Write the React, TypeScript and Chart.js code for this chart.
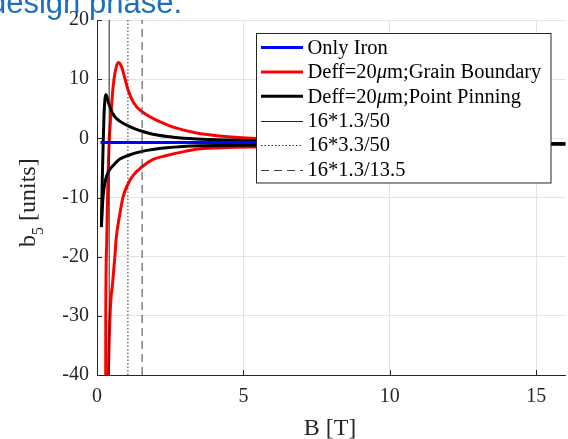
import React, { useEffect, useRef } from "react";
import { Chart, registerables } from "chart.js";
Chart.register(...registerables);

const SERIF = "'Times New Roman', 'Liberation Serif', 'DejaVu Serif', serif";

// axis ticks
const xTickValues = [0, 5, 10, 15];
const yTickValues = [-40, -30, -20, -10, 0, 10, 20];

// Only Iron
const ironX = [0.12, 15.5];
const ironY = [-0.7, -0.7];

// Deff=20um; Grain Boundary (upper branch)
const gbUpX = [0.295, 0.3, 0.33, 0.36, 0.39, 0.42, 0.47, 0.55, 0.62, 0.72, 0.83, 0.95, 1.06, 1.25, 1.54, 1.9, 2.2, 2.66, 3.4, 4.2, 5.1, 6.5, 8, 10, 13, 16];
const gbUpY = [-50, -30, -18, -10, -4, 0, 3.6, 8.7, 11.2, 12.8, 12.2, 10.2, 8.2, 6.0, 4.5, 3.4, 2.7, 1.8, 0.9, 0.4, 0.05, -0.3, -0.5, -0.65, -0.8, -0.9];
// Deff=20um; Grain Boundary (lower branch)
const gbDownX = [0.37, 0.39, 0.43, 0.47, 0.53, 0.61, 0.66, 0.78, 0.89, 1.06, 1.23, 1.54, 1.9, 2.38, 3.0, 3.52, 4.5, 5.5, 7, 9, 12, 16];
const gbDownY = [-50, -40, -32, -27.5, -24.6, -20, -16.7, -12.8, -9.9, -7.7, -6.3, -4.8, -3.6, -2.9, -2.2, -1.75, -1.55, -1.45, -1.3, -1.15, -1.0, -0.95];

// Deff=20um; Point Pinning (upper branch)
const ppUpX = [0.15, 0.18, 0.21, 0.24, 0.27, 0.3, 0.34, 0.4, 0.49, 0.6, 0.75, 1.06, 1.3, 1.54, 2.0, 2.6, 3.4, 4.5, 6, 8, 11, 16];
const ppUpY = [-15, -7, -1, 4, 6.5, 7.4, 7.0, 5.9, 4.7, 3.7, 3.0, 2.1, 1.6, 1.2, 0.6, 0.2, -0.1, -0.3, -0.45, -0.65, -0.8, -0.9];
// Deff=20um; Point Pinning (lower branch)
const ppDownX = [0.15, 0.18, 0.21, 0.26, 0.32, 0.42, 0.55, 0.75, 1.06, 1.54, 2.38, 3.52, 5.5, 8, 11, 16];
const ppDownY = [-15, -12, -9.7, -7.8, -6.5, -5.4, -4.6, -3.6, -2.9, -2.2, -1.6, -1.25, -1.15, -1.05, -1.0, -0.95];

// reference vertical lines
const refX = [(16 * 1.3) / 50, (16 * 3.3) / 50, (16 * 1.3) / 13.5];
const refLabels = ["16*1.3/50", "16*3.3/50", "16*1.3/13.5"];
const refDash = [[], [1.5, 2], [8, 5]];
const refColors = ["#222222", "#333333", "#444444"];

const seriesLabels = ["Only Iron", "Deff=20\u03bcm;Grain Boundary", "Deff=20\u03bcm;Point Pinning"];
const seriesColors = ["#0000ff", "#ff0000", "#000000"];

const X_MIN = 0, X_MAX = 16, Y_MIN = -40, Y_MAX = 20;

const pts = (xs: number[], ys: number[]) => xs.map((x, i) => ({ x, y: ys[i] }));

function curve(xs: number[], ys: number[], color: string, order: number) {
  return {
    data: pts(xs, ys),
    showLine: true,
    borderColor: color,
    backgroundColor: color,
    borderWidth: 3,
    pointRadius: 0,
    fill: false,
    cubicInterpolationMode: "monotone" as const,
    clip: 0,
    order,
  };
}

function drawRich(ctx: CanvasRenderingContext2D, text: string, x: number, y: number, size: number) {
  const parts = text.split(/(\u03bc)/);
  let cx = x;
  for (const p of parts) {
    if (!p) continue;
    ctx.font = (p === "\u03bc" ? "italic " : "") + `${size}px ${SERIF}`;
    ctx.fillText(p, cx, y);
    cx += ctx.measureText(p).width;
  }
}

const decorPlugin = {
  id: "decor",
  beforeDatasetsDraw(chart: any) {
    const { ctx, chartArea: ca, scales } = chart;
    ctx.save();
    ctx.strokeStyle = "#262626";
    ctx.lineWidth = 1;
    ctx.beginPath();
    for (const v of xTickValues) {
      const px = Math.round(scales.x.getPixelForValue(v)) + 0.5;
      ctx.moveTo(px, ca.bottom);
      ctx.lineTo(px, ca.bottom - 5);
    }
    for (const v of yTickValues) {
      const py = Math.round(scales.y.getPixelForValue(v)) + 0.5;
      ctx.moveTo(ca.left, py);
      ctx.lineTo(ca.left + 5, py);
    }
    ctx.stroke();
    ctx.restore();
  },
  afterDraw(chart: any) {
    const { ctx } = chart;
    ctx.save();
    // x axis title
    ctx.fillStyle = "#262626";
    ctx.font = `24px ${SERIF}`;
    ctx.textAlign = "center";
    ctx.textBaseline = "alphabetic";
    ctx.fillText("B [T]", 330, 435);

    // y axis title with subscript
    ctx.save();
    ctx.translate(35, 197);
    ctx.rotate(-Math.PI / 2);
    ctx.textAlign = "left";
    ctx.font = `24px ${SERIF}`;
    const wB = ctx.measureText("b").width;
    ctx.font = `16px ${SERIF}`;
    const w5 = ctx.measureText("5").width;
    let tx = -50;
    ctx.font = `24px ${SERIF}`;
    ctx.fillText("b", tx, 0);
    tx += wB;
    ctx.font = `16px ${SERIF}`;
    ctx.fillText("5", tx, 8);
    tx += w5;
    ctx.font = `24px ${SERIF}`;
    ctx.fillText(" [units]", tx, 0);
    ctx.restore();

    // legend
    const bx = 256.5, by = 33.5, bw = 294.5, bh = 149.5;
    ctx.fillStyle = "#ffffff";
    ctx.fillRect(bx, by, bw, bh);
    ctx.strokeStyle = "#262626";
    ctx.lineWidth = 1;
    ctx.strokeRect(bx, by, bw, bh);
    const rowY0 = 47.5, rowStep = 24.4;
    const lx0 = 261, lx1 = 303, tx0 = 307.5;
    const labels = [...seriesLabels, ...refLabels];
    labels.forEach((lab, i) => {
      const cy = rowY0 + i * rowStep;
      ctx.save();
      if (i < 3) {
        ctx.strokeStyle = seriesColors[i];
        ctx.lineWidth = 3;
        ctx.setLineDash([]);
      } else {
        ctx.strokeStyle = refColors[i - 3];
        ctx.lineWidth = 1;
        ctx.setLineDash(refDash[i - 3]);
      }
      const yy = i < 3 ? cy : Math.round(cy) + 0.5;
      ctx.beginPath();
      ctx.moveTo(lx0, yy);
      ctx.lineTo(lx1, yy);
      ctx.stroke();
      ctx.restore();
      ctx.fillStyle = "#000000";
      ctx.textAlign = "left";
      ctx.textBaseline = "middle";
      drawRich(ctx, lab, tx0, cy + 1, 20.5);
    });
    ctx.restore();
  },
};

export default function App() {
  const ref = useRef<HTMLCanvasElement | null>(null);
  useEffect(() => {
    if (!ref.current) return;
    const refSets = refX.map((x, i) => ({
      data: pts([x, x], [Y_MIN, Y_MAX]),
      showLine: true,
      borderColor: refColors[i],
      borderWidth: 1,
      borderDash: refDash[i],
      pointRadius: 0,
      fill: false,
      tension: 0,
      clip: 0,
      order: -1,
    }));
    const chart = new Chart(ref.current, {
      type: "scatter",
      data: {
        datasets: [
          curve(ironX, ironY, seriesColors[0], 0),
          curve(gbUpX, gbUpY, seriesColors[1], 2),
          curve(gbDownX, gbDownY, seriesColors[1], 2),
          curve(ppUpX, ppUpY, seriesColors[2], 1),
          curve(ppDownX, ppDownY, seriesColors[2], 1),
          ...refSets,
        ] as any,
      },
      options: {
        animation: false,
        responsive: false,
        devicePixelRatio: 1,
        layout: { padding: { top: 19.5, right: 2.5, left: 0, bottom: 0 } },
        plugins: { legend: { display: false }, tooltip: { enabled: false } },
        scales: {
          x: {
            type: "linear",
            min: X_MIN,
            max: X_MAX,
            afterBuildTicks: (s: any) => {
              s.ticks = xTickValues.map((v) => ({ value: v }));
            },
            afterFit: (s: any) => {
              s.height = 64;
            },
            grid: { color: "#e3e3e3", drawTicks: false, lineWidth: 1 },
            border: { display: true, color: "#262626", width: 1 },
            ticks: {
              color: "#262626",
              font: { family: SERIF, size: 20 },
              padding: 10,
              maxRotation: 0,
            },
          },
          y: {
            type: "linear",
            min: Y_MIN,
            max: Y_MAX,
            afterBuildTicks: (s: any) => {
              s.ticks = yTickValues.map((v) => ({ value: v }));
            },
            afterFit: (s: any) => {
              s.width = 97;
            },
            grid: { color: "#e3e3e3", drawTicks: false, lineWidth: 1 },
            border: { display: true, color: "#262626", width: 1 },
            ticks: {
              color: "#262626",
              font: { family: SERIF, size: 20 },
              padding: 8,
            },
          },
        },
      },
      plugins: [decorPlugin],
    } as any);
    return () => chart.destroy();
  }, []);

  return (
    <div style={{ position: "absolute", left: 0, top: 0, width: 568, height: 439, overflow: "hidden", background: "#ffffff" }}>
      <canvas ref={ref} width={568} height={439} style={{ position: "absolute", left: 0, top: 0, width: 568, height: 439 }} />
      <div
        style={{
          position: "absolute",
          left: -11,
          top: -13,
          fontFamily: "Arial, 'Liberation Sans', sans-serif",
          fontSize: 31,
          lineHeight: "31px",
          color: "#1c6ebf",
          whiteSpace: "nowrap",
        }}
      >
        design phase.
      </div>
    </div>
  );
}
